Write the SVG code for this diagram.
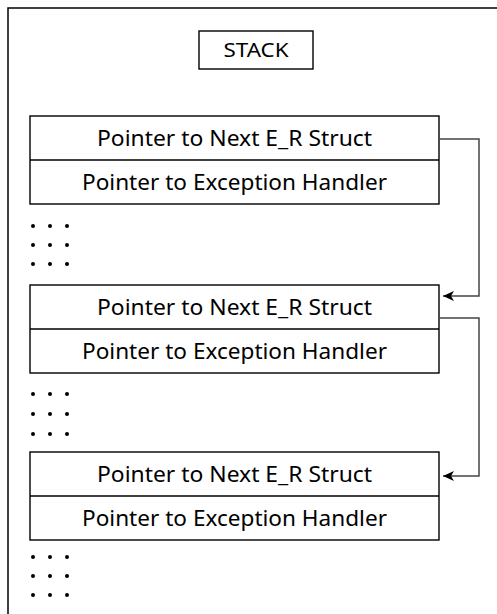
<svg xmlns="http://www.w3.org/2000/svg" width="497" height="614" viewBox="0 0 497 614">
<style>
.box{fill:#fff;stroke:#000;stroke-width:1.4}
.lbl{font-family:"Noto Sans","Open Sans",sans-serif;font-size:22px;fill:#000;text-anchor:middle}
.stk{font-family:"Noto Sans","Open Sans",sans-serif;font-size:19px;fill:#000;text-anchor:middle}
.conn{fill:none;stroke:#444;stroke-width:1.5}
.dot{fill:#000}
</style>
<defs>
<marker id="arr" markerUnits="userSpaceOnUse" markerWidth="14" markerHeight="12" viewBox="-12 -6 14 12" refX="0" refY="0" orient="auto">
<path d="M0,0 L-11,-5 L-8,0 L-11,5 Z" fill="#000"/>
</marker>
</defs>
<path id="frame" d="M8,614 V8 H497" fill="none" stroke="#000" stroke-width="1.5"/>
<g id="stack">
<rect class="box" x="199" y="31" width="114" height="38"/>
<text class="stk" x="256" y="57" textLength="65" lengthAdjust="spacingAndGlyphs">STACK</text>
</g>
<g id="er1">
<rect class="box" x="30" y="116" width="409" height="88"/>
<line x1="30" y1="160" x2="439" y2="160" stroke="#000" stroke-width="1.4"/>
<text class="lbl" x="234.5" y="146" textLength="275" lengthAdjust="spacingAndGlyphs">Pointer to Next E_R Struct</text>
<text class="lbl" x="234.5" y="190" textLength="305" lengthAdjust="spacingAndGlyphs">Pointer to Exception Handler</text>
</g>
<g id="er2">
<rect class="box" x="30" y="285" width="409" height="88"/>
<line x1="30" y1="329" x2="439" y2="329" stroke="#000" stroke-width="1.4"/>
<text class="lbl" x="234.5" y="315" textLength="275" lengthAdjust="spacingAndGlyphs">Pointer to Next E_R Struct</text>
<text class="lbl" x="234.5" y="359" textLength="305" lengthAdjust="spacingAndGlyphs">Pointer to Exception Handler</text>
</g>
<g id="er3">
<rect class="box" x="30" y="452" width="409" height="88"/>
<line x1="30" y1="496" x2="439" y2="496" stroke="#000" stroke-width="1.4"/>
<text class="lbl" x="234.5" y="482" textLength="275" lengthAdjust="spacingAndGlyphs">Pointer to Next E_R Struct</text>
<text class="lbl" x="234.5" y="526" textLength="305" lengthAdjust="spacingAndGlyphs">Pointer to Exception Handler</text>
</g>
<g id="dots">
<circle class="dot" cx="33" cy="226" r="2"/><circle class="dot" cx="50" cy="226" r="2"/><circle class="dot" cx="67" cy="226" r="2"/>
<circle class="dot" cx="33" cy="245" r="2"/><circle class="dot" cx="50" cy="245" r="2"/><circle class="dot" cx="67" cy="245" r="2"/>
<circle class="dot" cx="33" cy="264" r="2"/><circle class="dot" cx="50" cy="264" r="2"/><circle class="dot" cx="67" cy="264" r="2"/>
<circle class="dot" cx="33" cy="394" r="2"/><circle class="dot" cx="50" cy="394" r="2"/><circle class="dot" cx="67" cy="394" r="2"/>
<circle class="dot" cx="33" cy="414" r="2"/><circle class="dot" cx="50" cy="414" r="2"/><circle class="dot" cx="67" cy="414" r="2"/>
<circle class="dot" cx="33" cy="434" r="2"/><circle class="dot" cx="50" cy="434" r="2"/><circle class="dot" cx="67" cy="434" r="2"/>
<circle class="dot" cx="33" cy="557" r="2"/><circle class="dot" cx="50" cy="557" r="2"/><circle class="dot" cx="67" cy="557" r="2"/>
<circle class="dot" cx="33" cy="576" r="2"/><circle class="dot" cx="50" cy="576" r="2"/><circle class="dot" cx="67" cy="576" r="2"/>
<circle class="dot" cx="33" cy="595" r="2"/><circle class="dot" cx="50" cy="595" r="2"/><circle class="dot" cx="67" cy="595" r="2"/>
</g>
<g id="connectors">
<path class="conn" d="M439,139 H479 V296 H443" marker-end="url(#arr)"/>
<path class="conn" d="M439,318 H479 V476 H443" marker-end="url(#arr)"/>
</g>
</svg>
